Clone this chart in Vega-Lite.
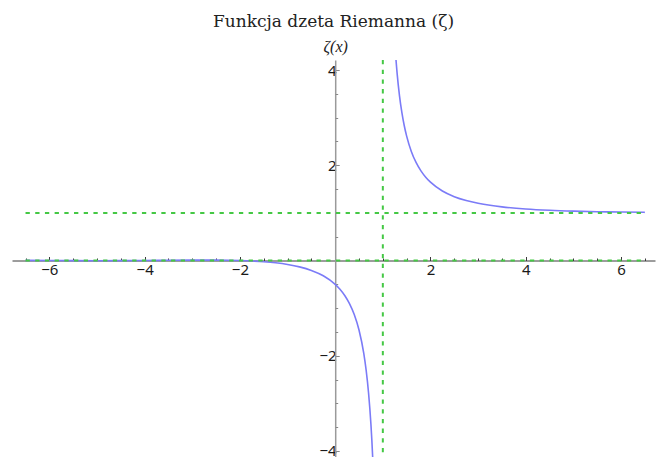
{
  "$schema": "https://vega.github.io/schema/vega-lite/v6.json",
  "width": 643,
  "height": 397,
  "autosize": {"type": "none"},
  "padding": {"left": 12, "top": 60, "right": 10, "bottom": 0},
  "background": "white",
  "config": {"view": {"stroke": null}},
  "title": {
    "text": "Funkcja dzeta Riemanna (ζ)",
    "font": "DejaVu Serif",
    "fontSize": 17,
    "fontWeight": "normal",
    "color": "#222222",
    "anchor": "middle",
    "offset": 7
  },
  "datasets": {
    "zeta": [
      {"x": -6.5, "y": 0.00275, "seg": "left"},
      {"x": -6, "y": 0, "seg": "left"},
      {"x": -5.5, "y": -0.00267, "seg": "left"},
      {"x": -5, "y": -0.00397, "seg": "left"},
      {"x": -4.5, "y": -0.00309, "seg": "left"},
      {"x": -4, "y": 0, "seg": "left"},
      {"x": -3.5, "y": 0.00444, "seg": "left"},
      {"x": -3, "y": 0.00833, "seg": "left"},
      {"x": -2.5, "y": 0.00852, "seg": "left"},
      {"x": -2, "y": 0, "seg": "left"},
      {"x": -1.75, "y": -0.0099, "seg": "left"},
      {"x": -1.5, "y": -0.02549, "seg": "left"},
      {"x": -1.25, "y": -0.0489, "seg": "left"},
      {"x": -1, "y": -0.08333, "seg": "left"},
      {"x": -0.75, "y": -0.1336, "seg": "left"},
      {"x": -0.5, "y": -0.2079, "seg": "left"},
      {"x": -0.25, "y": -0.3205, "seg": "left"},
      {"x": 0, "y": -0.5, "seg": "left"},
      {"x": 0.1, "y": -0.6031, "seg": "left"},
      {"x": 0.2, "y": -0.734, "seg": "left"},
      {"x": 0.3, "y": -0.9046, "seg": "left"},
      {"x": 0.4, "y": -1.1348, "seg": "left"},
      {"x": 0.5, "y": -1.4604, "seg": "left"},
      {"x": 0.6, "y": -1.9527, "seg": "left"},
      {"x": 0.65, "y": -2.306, "seg": "left"},
      {"x": 0.7, "y": -2.7784, "seg": "left"},
      {"x": 0.75, "y": -3.4413, "seg": "left"},
      {"x": 0.77, "y": -3.7876, "seg": "left"},
      {"x": 0.79, "y": -4.2002, "seg": "left"},
      {"x": 0.8, "y": -4.4375, "seg": "left"},
      {"x": 0.82, "y": -4.9917, "seg": "left"},
      {"x": 1.2, "y": 5.5916, "seg": "right"},
      {"x": 1.25, "y": 4.5951, "seg": "right"},
      {"x": 1.3, "y": 3.9319, "seg": "right"},
      {"x": 1.35, "y": 3.4592, "seg": "right"},
      {"x": 1.4, "y": 3.1055, "seg": "right"},
      {"x": 1.45, "y": 2.8312, "seg": "right"},
      {"x": 1.5, "y": 2.6124, "seg": "right"},
      {"x": 1.6, "y": 2.2858, "seg": "right"},
      {"x": 1.7, "y": 2.0543, "seg": "right"},
      {"x": 1.8, "y": 1.8822, "seg": "right"},
      {"x": 1.9, "y": 1.7497, "seg": "right"},
      {"x": 2, "y": 1.6449, "seg": "right"},
      {"x": 2.25, "y": 1.46, "seg": "right"},
      {"x": 2.5, "y": 1.3415, "seg": "right"},
      {"x": 2.75, "y": 1.2601, "seg": "right"},
      {"x": 3, "y": 1.2021, "seg": "right"},
      {"x": 3.25, "y": 1.1591, "seg": "right"},
      {"x": 3.5, "y": 1.1267, "seg": "right"},
      {"x": 4, "y": 1.0823, "seg": "right"},
      {"x": 4.5, "y": 1.0547, "seg": "right"},
      {"x": 5, "y": 1.0369, "seg": "right"},
      {"x": 5.5, "y": 1.0252, "seg": "right"},
      {"x": 6, "y": 1.0173, "seg": "right"},
      {"x": 6.5, "y": 1.012, "seg": "right"}
    ],
    "hlines": [
      {"y": 1, "x": -6.5, "x2": 6.5},
      {"y": 0, "x": -6.5, "x2": 6.5}
    ],
    "vlines": [
      {"x": 1}
    ]
  },
  "layer": [
    {
      "data": {"name": "zeta"},
      "mark": {"type": "line", "clip": true, "color": "#7b7bf7", "strokeWidth": 1.6, "interpolate": "monotone"},
      "encoding": {
        "x": {
          "field": "x", "type": "quantitative",
          "scale": {"domain": [-6.784, 6.713], "nice": false, "zero": false},
          "axis": {
            "values": [-6, -4, -2, 2, 4, 6],
            "orient": "bottom", "offset": -196.5,
            "grid": false, "title": null,
            "domainColor": "#3a3a3a", "domainWidth": 1,
            "tickColor": "#3a3a3a", "tickSize": -4, "tickWidth": 1,
            "labelFont": "Noto Sans", "labelFontSize": 15, "labelColor": "#1a1a1a",
            "labelPadding": 6, "labelFlush": false, "labelOverlap": false
          }
        },
        "y": {
          "field": "y", "type": "quantitative",
          "scale": {"domain": [-4.128, 4.212], "nice": false, "zero": false},
          "axis": {
            "values": [-4, -2, 2, 4],
            "orient": "left", "offset": -323.2,
            "grid": false,
            "domainColor": "#9a9a9a", "domainWidth": 1.5,
            "tickColor": "#888888", "tickSize": -4, "tickWidth": 1,
            "labelFont": "Noto Sans", "labelFontSize": 15, "labelColor": "#1a1a1a",
            "labelPadding": 3, "labelFlush": false, "labelOverlap": false,
            "title": "ζ(x)", "titleAngle": 0, "titleX": 0, "titleY": -9,
            "titleAlign": "center", "titleBaseline": "alphabetic",
            "titleFont": "Liberation Serif", "titleFontStyle": "italic",
            "titleFontWeight": "normal", "titleFontSize": 16, "titleColor": "#222222"
          }
        },
        "detail": {"field": "seg"}
      }
    },
    {
      "data": {"name": "hlines"},
      "mark": {"type": "rule", "color": "#45c845", "strokeWidth": 2, "strokeDash": [4.3, 5.4]},
      "encoding": {
        "x": {
          "field": "x", "type": "quantitative",
          "axis": {
            "values": [-6.5, -5.5, -5, -4.5, -3.5, -3, -2.5, -1.5, -1, -0.5, 0.5, 1, 1.5, 2.5, 3, 3.5, 4.5, 5, 5.5, 6.5],
            "orient": "bottom", "offset": -196.5, "domain": false, "labels": false,
            "grid": false, "title": null,
            "tickColor": "#3a3a3a", "tickSize": -2.5, "tickWidth": 1
          }
        },
        "x2": {"field": "x2"},
        "y": {
          "field": "y", "type": "quantitative",
          "axis": {
            "values": [-3.5, -3, -2.5, -1.5, -1, -0.5, 0.5, 1, 1.5, 2.5, 3, 3.5],
            "orient": "left", "offset": -323.2, "domain": false, "labels": false,
            "grid": false, "title": null,
            "tickColor": "#888888", "tickSize": -2.5, "tickWidth": 1
          }
        }
      }
    },
    {
      "data": {"name": "vlines"},
      "mark": {"type": "rule", "color": "#45c845", "strokeWidth": 2, "strokeDash": [4.3, 5.4]},
      "encoding": {
        "x": {"field": "x", "type": "quantitative", "axis": null}
      }
    }
  ],
  "resolve": {"axis": {"x": "independent", "y": "independent"}}
}
